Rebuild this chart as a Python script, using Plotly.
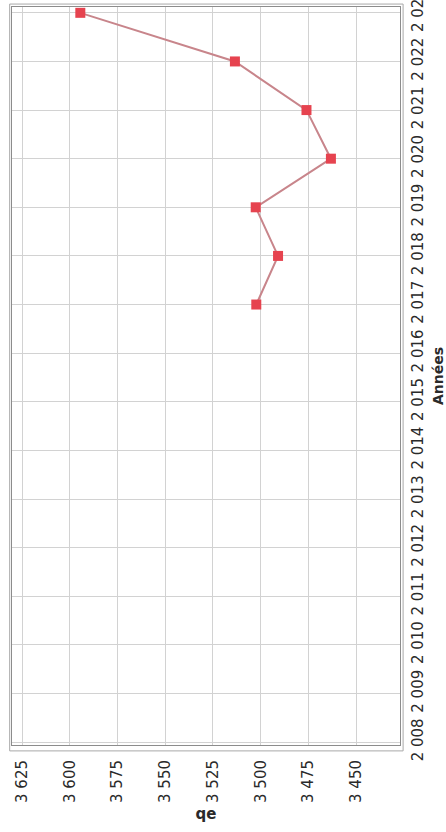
import plotly.graph_objects as go

years = [2017, 2018, 2019, 2020, 2021, 2022, 2023]
qe = [3502.3, 3490.9, 3502.6, 3463.2, 3476.0, 3513.5, 3594.5]

year_ticks = list(range(2008, 2024))
qe_ticks = [3625, 3600, 3575, 3550, 3525, 3500, 3475, 3450]

fig = go.Figure()

fig.add_trace(go.Scatter(
    x=qe,
    y=years,
    mode="lines+markers",
    line=dict(color="#c8858b", width=2),
    marker=dict(symbol="square", size=10, color="#e6434f",
                line=dict(width=0)),
    showlegend=False,
))

# outer frame line (the scan shows a double border)
fig.add_shape(type="rect", xref="paper", yref="paper",
              x0=-0.006, x1=1.008, y0=-0.008, y1=1.004,
              line=dict(color="#a8a8a8", width=1))

fig.update_layout(
    width=446,
    height=832,
    margin=dict(l=12, r=46, t=7, b=87),
    paper_bgcolor="white",
    plot_bgcolor="white",
    separators=", ",
    font=dict(family="DejaVu Sans", size=15, color="#2a2a2a"),
    xaxis=dict(
        range=[3630.3, 3427],
        tickvals=qe_ticks,
        separatethousands=True,
        tickangle=-90,
        ticklabelstandoff=8,
        automargin=False,
        showgrid=True,
        gridcolor="#d2d2d2",
        gridwidth=1,
        zeroline=False,
        showline=True,
        mirror=True,
        linecolor="#8c8c8c",
        linewidth=1,
        ticks="",
        title=dict(text="<b>qe</b>", font=dict(size=15, color="#2a2a2a"),
                   standoff=6),
    ),
    yaxis=dict(
        side="right",
        range=[2007.94, 2023.12],
        tickvals=year_ticks,
        separatethousands=True,
        tickangle=-90,
        ticklabelstandoff=4,
        ticklabeloverflow="allow",
        automargin=False,
        showgrid=True,
        gridcolor="#d2d2d2",
        gridwidth=1,
        zeroline=False,
        showline=True,
        mirror=True,
        linecolor="#8c8c8c",
        linewidth=1,
        ticks="",
        title=dict(text="<b>Années</b>", font=dict(size=14, color="#2a2a2a"),
                   standoff=9),
    ),
)

# drop the browser's default 8px body margin so the figure sits at 0,0
fig.write_html("out.html", config={"displayModeBar": False},
               post_script="document.body.style.margin='0';")
